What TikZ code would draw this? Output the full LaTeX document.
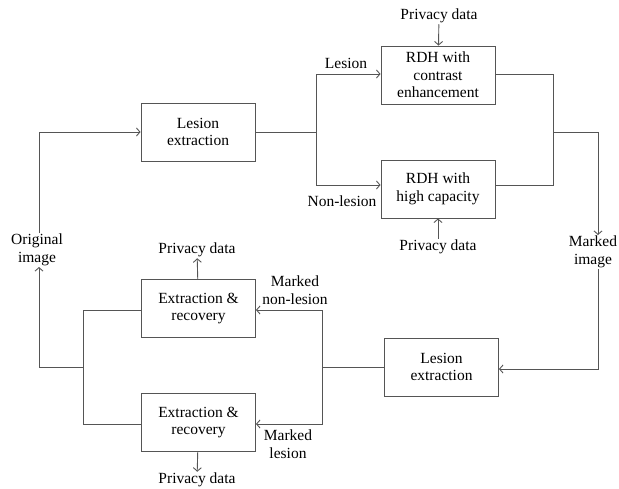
\documentclass[tikz,border=0pt]{standalone}
\usepackage{fontspec}
\setmainfont{Liberation Serif}
\usetikzlibrary{arrows.meta, positioning, calc}
\definecolor{linecolor}{RGB}{85, 85, 85}

\begin{document}
\begin{tikzpicture}[
    x=1pt, y=-1pt,
    >={Straight Barb[length=3.5pt, width=8pt]},
    block/.style={rectangle, draw=linecolor, line width=0.9pt, minimum width=114pt, minimum height=58pt, align=center, inner sep=2pt},
    label/.style={align=center, inner sep=1pt},
    arrow/.style={->, draw=linecolor, line width=0.9pt},
    wire/.style={draw=linecolor, line width=0.9pt},
    every node/.style={font=\fontsize{15.5}{17.5}\selectfont}
]
\useasboundingbox (0,0) rectangle (619,488);

% Embedding side
\node[block] (lesA) at (198,132) {Lesion\\extraction};
\node[block] (rdhA) at (438,75) {RDH with\\contrast\\enhancement};
\node[block] (rdhB) at (438,189) {RDH with\\high capacity};
\node[label] (privA) at (439,16) {Privacy data};
\node[label] (privB) at (438,247) {Privacy data};
\node[label] (lesTxt) at (346,63) {Lesion};
\node[label] (nonTxt) at (342,201) {Non-lesion};

% Recovery side
\node[block] (lesB) at (441.5,367) {Lesion\\extraction};
\node[block] (extA) at (198.5,308.5) {Extraction \&\\recovery};
\node[block] (extB) at (198.5,422.5) {Extraction \&\\recovery};
\node[label] (privC) at (197,250) {Privacy data};
\node[label] (privD) at (197,480) {Privacy data};
\node[label] (mnTxt) at (295,290) {Marked\\non-lesion};
\node[label] (mlTxt) at (288,444) {Marked\\lesion};

% Images
\node[label] (orig) at (37,250) {Original\\image};
\node[label] (marked) at (593,252) {Marked\\image};

% Junctions
\coordinate (split) at (316,132);
\coordinate (merge) at (553,132);
\coordinate (split2) at (322,367);
\coordinate (merge2) at (83,367);

% Arrows
\draw[arrow] ([xshift=2pt]orig.north) |- (lesA.west);
\draw[wire] (lesA.east) -- (split);
\draw[arrow] (split) |- ([yshift=1pt]rdhA.west);
\draw[arrow] (split) |- ([yshift=4pt]rdhB.west);
\draw[arrow] (privA) -- (rdhA);
\draw[arrow] (privB) -- (rdhB);
\draw[wire] ([yshift=1pt]rdhA.east) -| (merge);
\draw[wire] ([yshift=4pt]rdhB.east) -| (merge);
\draw[arrow] (merge) -| ([xshift=5pt]marked.north);
\draw[arrow] ([xshift=5pt]marked.south) |- ([yshift=-2pt]lesB.east);
\draw[wire] (lesB.west) -- (split2);
\draw[arrow] (split2) |- ([yshift=-1.5pt]extA.east);
\draw[arrow] (split2) |- ([yshift=-1.5pt]extB.east);
\draw[arrow] (extA) -- (privC);
\draw[arrow] (extB) -- (privD);
\draw[wire] ([yshift=-1.5pt]extA.west) -| (merge2);
\draw[wire] ([yshift=-1.5pt]extB.west) -| (merge2);
\draw[arrow] (merge2) -| ([xshift=2pt]orig.south);

\end{tikzpicture}
\end{document}
